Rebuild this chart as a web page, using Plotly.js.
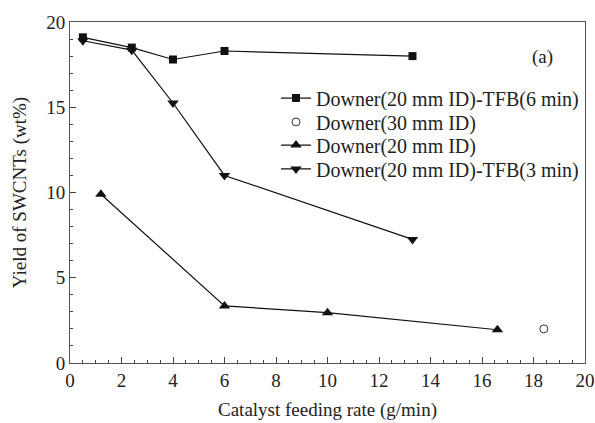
<!DOCTYPE html>
<html>
<head>
<meta charset="utf-8">
<script src="https://cdn.plot.ly/plotly-3.0.1.min.js"></script>
<style>html,body{margin:0;padding:0;background:#fff;}#chart{width:595px;height:423px;}</style>
</head>
<body>
<div id="chart"></div>
<script>
const tfb6X = [0.5, 2.4, 4.0, 6.0, 13.3];
const tfb6Y = [19.1, 18.5, 17.8, 18.3, 18.0];
const d30X = [18.4];
const d30Y = [2.0];
const d20X = [1.2, 6.0, 10.0, 16.6];
const d20Y = [9.9, 3.35, 2.95, 1.95];
const tfb3X = [0.5, 2.4, 4.0, 6.0, 13.3];
const tfb3Y = [18.9, 18.35, 15.25, 11.0, 7.25];
const names = ["Downer(20 mm ID)-TFB(6 min)", "Downer(30 mm ID)", "Downer(20 mm ID)", "Downer(20 mm ID)-TFB(3 min)"];

const font = "'Liberation Serif', 'Times New Roman', serif";
const ink = "#222";
const traces = [
  {x: tfb6X, y: tfb6Y, name: names[0], legend: "legend", mode: "lines+markers", line: {color: "#111", width: 1.2}, marker: {symbol: "square", size: 8, color: "#111"}},
  {x: d30X, y: d30Y, name: names[1], legend: "legend2", mode: "markers", marker: {symbol: "circle-open", size: 8, color: "#333", line: {width: 1}}},
  {x: d20X, y: d20Y, name: names[2], legend: "legend3", mode: "lines+markers", line: {color: "#111", width: 1.2}, marker: {symbol: "triangle-up", size: 10, color: "#111"}},
  {x: tfb3X, y: tfb3Y, name: names[3], legend: "legend4", mode: "lines+markers", line: {color: "#111", width: 1.2}, marker: {symbol: "triangle-down", size: 10, color: "#111"}}
];

const legFont = {family: font, size: 20, color: ink};
function leg(y) {
  return {x: 0.4, y: y, xanchor: "left", yanchor: "middle", bgcolor: "rgba(0,0,0,0)", font: legFont, borderwidth: 0};
}

const layout = {
  width: 595, height: 423,
  margin: {l: 70, r: 10, t: 22, b: 60},
  paper_bgcolor: "#fff", plot_bgcolor: "#fff",
  font: {family: font, color: ink, size: 19},
  showlegend: true,
  legend: leg(0.777),
  legend2: leg(0.707),
  legend3: leg(0.639),
  legend4: leg(0.569),
  xaxis: {
    range: [0, 20], dtick: 2, tick0: 0, ticks: "inside", ticklen: 6, tickcolor: "#444",
    minor: {dtick: 0.5, ticks: "inside", ticklen: 3, tickcolor: "#444"},
    showline: true, mirror: true, linecolor: "#555", linewidth: 1, showgrid: false, zeroline: false,
    tickfont: {family: font, size: 19, color: ink},
    title: {text: "Catalyst feeding rate (g/min)", font: {family: font, size: 19, color: ink}, standoff: 12}
  },
  yaxis: {
    range: [0, 20], dtick: 5, tick0: 0, ticks: "inside", ticklen: 6, tickcolor: "#444",
    minor: {dtick: 1, ticks: "inside", ticklen: 3, tickcolor: "#444"},
    showline: true, mirror: true, linecolor: "#555", linewidth: 1, showgrid: false, zeroline: false,
    tickfont: {family: font, size: 19, color: ink},
    title: {text: "Yield of SWCNTs (wt%)", font: {family: font, size: 19, color: ink}, standoff: 14}
  },
  annotations: [{xref: "paper", yref: "paper", x: 0.917, y: 0.897, xanchor: "center", yanchor: "middle", text: "(a)", showarrow: false, font: {family: font, size: 19, color: ink}}]
};

Plotly.newPlot("chart", traces, layout, {displayModeBar: false, staticPlot: true});
</script>
</body>
</html>
